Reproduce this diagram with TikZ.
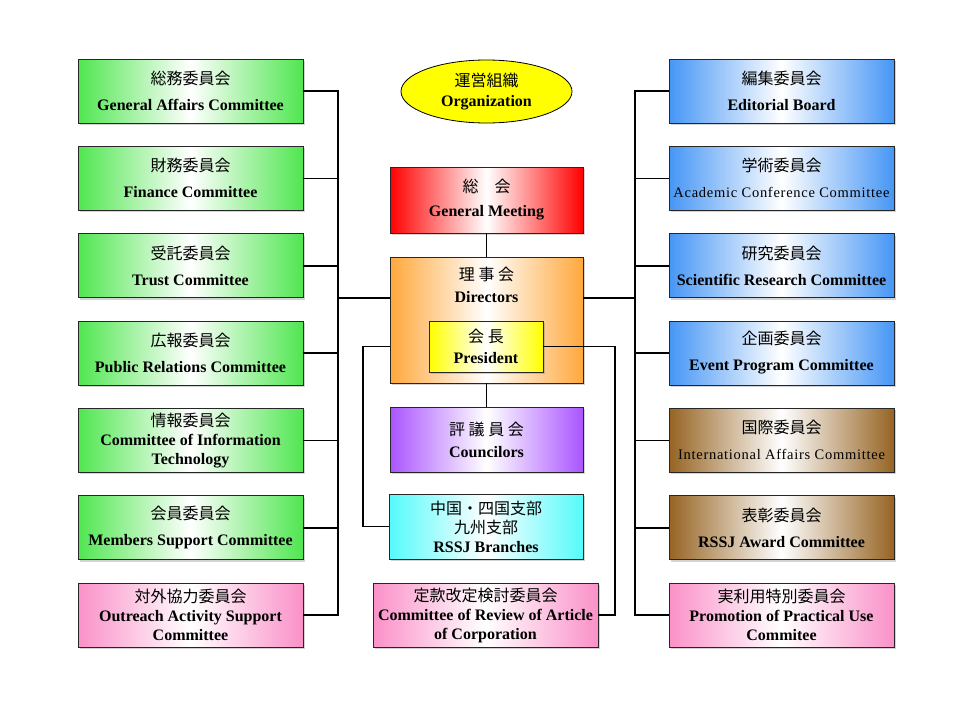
\documentclass[tikz,border=0pt]{standalone}
\usepackage{fontspec}
\setmainfont{Liberation Serif}
\newfontfamily\jpfont{Noto Sans CJK JP}
\usetikzlibrary{shapes.geometric,shadows}

\definecolor{grn}{RGB}{80,230,80}
\definecolor{blu}{RGB}{70,150,245}
\definecolor{brn}{RGB}{150,100,35}
\definecolor{pnk}{RGB}{250,145,200}
\definecolor{rd}{RGB}{255,0,0}
\definecolor{orng}{RGB}{255,168,60}
\definecolor{yel}{RGB}{255,255,0}
\definecolor{prp}{RGB}{170,85,255}
\definecolor{cyn}{RGB}{85,250,250}

\newcommand{\ja}[1]{{\jpfont\mdseries #1}}
\newcommand{\thin}[1]{{\mdseries\fontsize{14.5}{19}\selectfont\addfontfeature{LetterSpace=5}#1}}

\begin{document}
\begin{tikzpicture}[x=1pt, y=-1pt,
        unit/.style={draw=black!85, line width=0.8pt, align=center, inner sep=0pt,
            minimum width=225pt, minimum height=64pt,
            font=\fontsize{16}{19}\selectfont\bfseries,
            left color=#1, right color=#1, middle color=white,
            drop shadow={shadow xshift=2pt, shadow yshift=-2pt, opacity=0.35}},
        mid/.style={minimum width=193pt},
        link/.style={line width=1.6pt}]
    \useasboundingbox (0,0) rectangle (958,720);

    \node[unit=grn] (gaff)  at (190.5, 91)   {\ja{総務委員会}\\[7pt]General Affairs Committee};
    \node[unit=grn] (fin)   at (190.5, 178.3) {\ja{財務委員会}\\[7pt]Finance Committee};
    \node[unit=grn] (trust) at (190.5, 265.7) {\ja{受託委員会}\\[7pt]Trust Committee};
    \node[unit=grn] (pr)    at (190.5, 353)   {\ja{広報委員会}\\[7pt]Public Relations Committee};
    \node[unit=grn] (it)    at (190.5, 440.3) {\ja{情報委員会}\\Committee of Information\\Technology};
    \node[unit=grn] (mem)   at (190.5, 527.7) {\ja{会員委員会}\\[7pt]Members Support Committee};
    \node[unit=pnk] (out)   at (190.5, 615)   {\ja{対外協力委員会}\\Outreach Activity Support\\Committee};

    \node[unit=blu] (edit)  at (781.5, 91)   {\ja{編集委員会}\\[7pt]Editorial Board};
    \node[unit=blu] (acad)  at (781.5, 178.3) {\ja{学術委員会}\\[7pt]\thin{Academic Conference Committee}};
    \node[unit=blu] (sci)   at (781.5, 265.7) {\ja{研究委員会}\\[7pt]Scientific Research Committee};
    \node[unit=blu] (event) at (781.5, 353)   {\ja{企画委員会}\\[7pt]Event Program Committee};
    \node[unit=brn] (intl)  at (781.5, 440.3) {\ja{国際委員会}\\[7pt]\thin{International Affairs Committee}};
    \node[unit=brn] (award) at (781.5, 527.7) {\ja{表彰委員会}\\[7pt]RSSJ Award Committee};
    \node[unit=pnk] (prac)  at (781.5, 615)   {\ja{実利用特別委員会}\\Promotion of Practical Use\\Commitee};

    \node[ellipse, draw, line width=0.8pt, fill=yel, minimum width=171pt, minimum height=63pt,
        inner sep=0pt, align=center, font=\fontsize{16}{19}\selectfont\bfseries]
        (org) at (486.5, 91.5) {\ja{運営組織}\\[1pt]Organization};
    \node[unit=rd, mid, minimum height=66pt] (gm) at (486.5, 200) {\ja{総　会}\\[5pt]General Meeting};
    \node[unit=orng, mid, minimum height=126pt,
        label={[anchor=north, align=center, inner sep=0pt, yshift=-10pt,
            font=\fontsize{16}{19}\selectfont\bfseries]north:{\ja{理 事 会}\\[3pt]Directors}}]
        (dir) at (486.5, 320) {};
    \node[unit=yel, minimum width=114pt, minimum height=51pt] (pres) at (486, 346.5) {\ja{会 長}\\[2pt]President};
    \node[unit=prp, mid, minimum height=65pt] (coun) at (486.5, 439.5) {\ja{評 議 員 会}\\[3pt]Councilors};
    \node[unit=cyn, minimum width=194pt, minimum height=65pt] (br) at (486, 526.5) {\ja{中国・四国支部}\\\ja{九州支部}\\RSSJ Branches};
    \node[unit=pnk] (rev) at (485.5, 615) {\ja{定款改定検討委員会}\\Committee of Review of Article\\of Corporation};

    \coordinate (lbus) at (338, 0);
    \coordinate (rbus) at (635, 0);
    \coordinate (lloop) at (363, 0);
    \coordinate (rloop) at (615, 0);
    \coordinate (dl) at ([yshift=22pt]dir.west);
    \coordinate (dr) at ([yshift=22pt]dir.east);

    \draw[link] (gaff.east) -| (lbus |- out.east) -- (out.east);
    \draw[link] (fin.east) -- (fin.east -| lbus);
    \draw[link] (trust.east) -- (trust.east -| lbus);
    \draw[link] (pr.east) -- (pr.east -| lbus);
    \draw[link] (it.east) -- (it.east -| lbus);
    \draw[link] (mem.east) -- (mem.east -| lbus);
    \draw[link] (dl) -- (dl -| lbus);

    \draw[link] (edit.west) -| (rbus |- prac.west) -- (prac.west);
    \draw[link] (acad.west) -- (acad.west -| rbus);
    \draw[link] (sci.west) -- (sci.west -| rbus);
    \draw[link] (event.west) -- (event.west -| rbus);
    \draw[link] (intl.west) -- (intl.west -| rbus);
    \draw[link] (award.west) -- (award.west -| rbus);
    \draw[link] (dr) -- (dr -| rbus);

    \draw[link] (gm.south) -- (dir.north);
    \draw[link] (dir.south) -- (coun.north);
    \draw[link] (pres.east) -| (rloop |- rev.east) -- (rev.east);
    \draw[link] (dir.west |- pres.west) -| (lloop |- br.west) -- (br.west);
\end{tikzpicture}
\end{document}
